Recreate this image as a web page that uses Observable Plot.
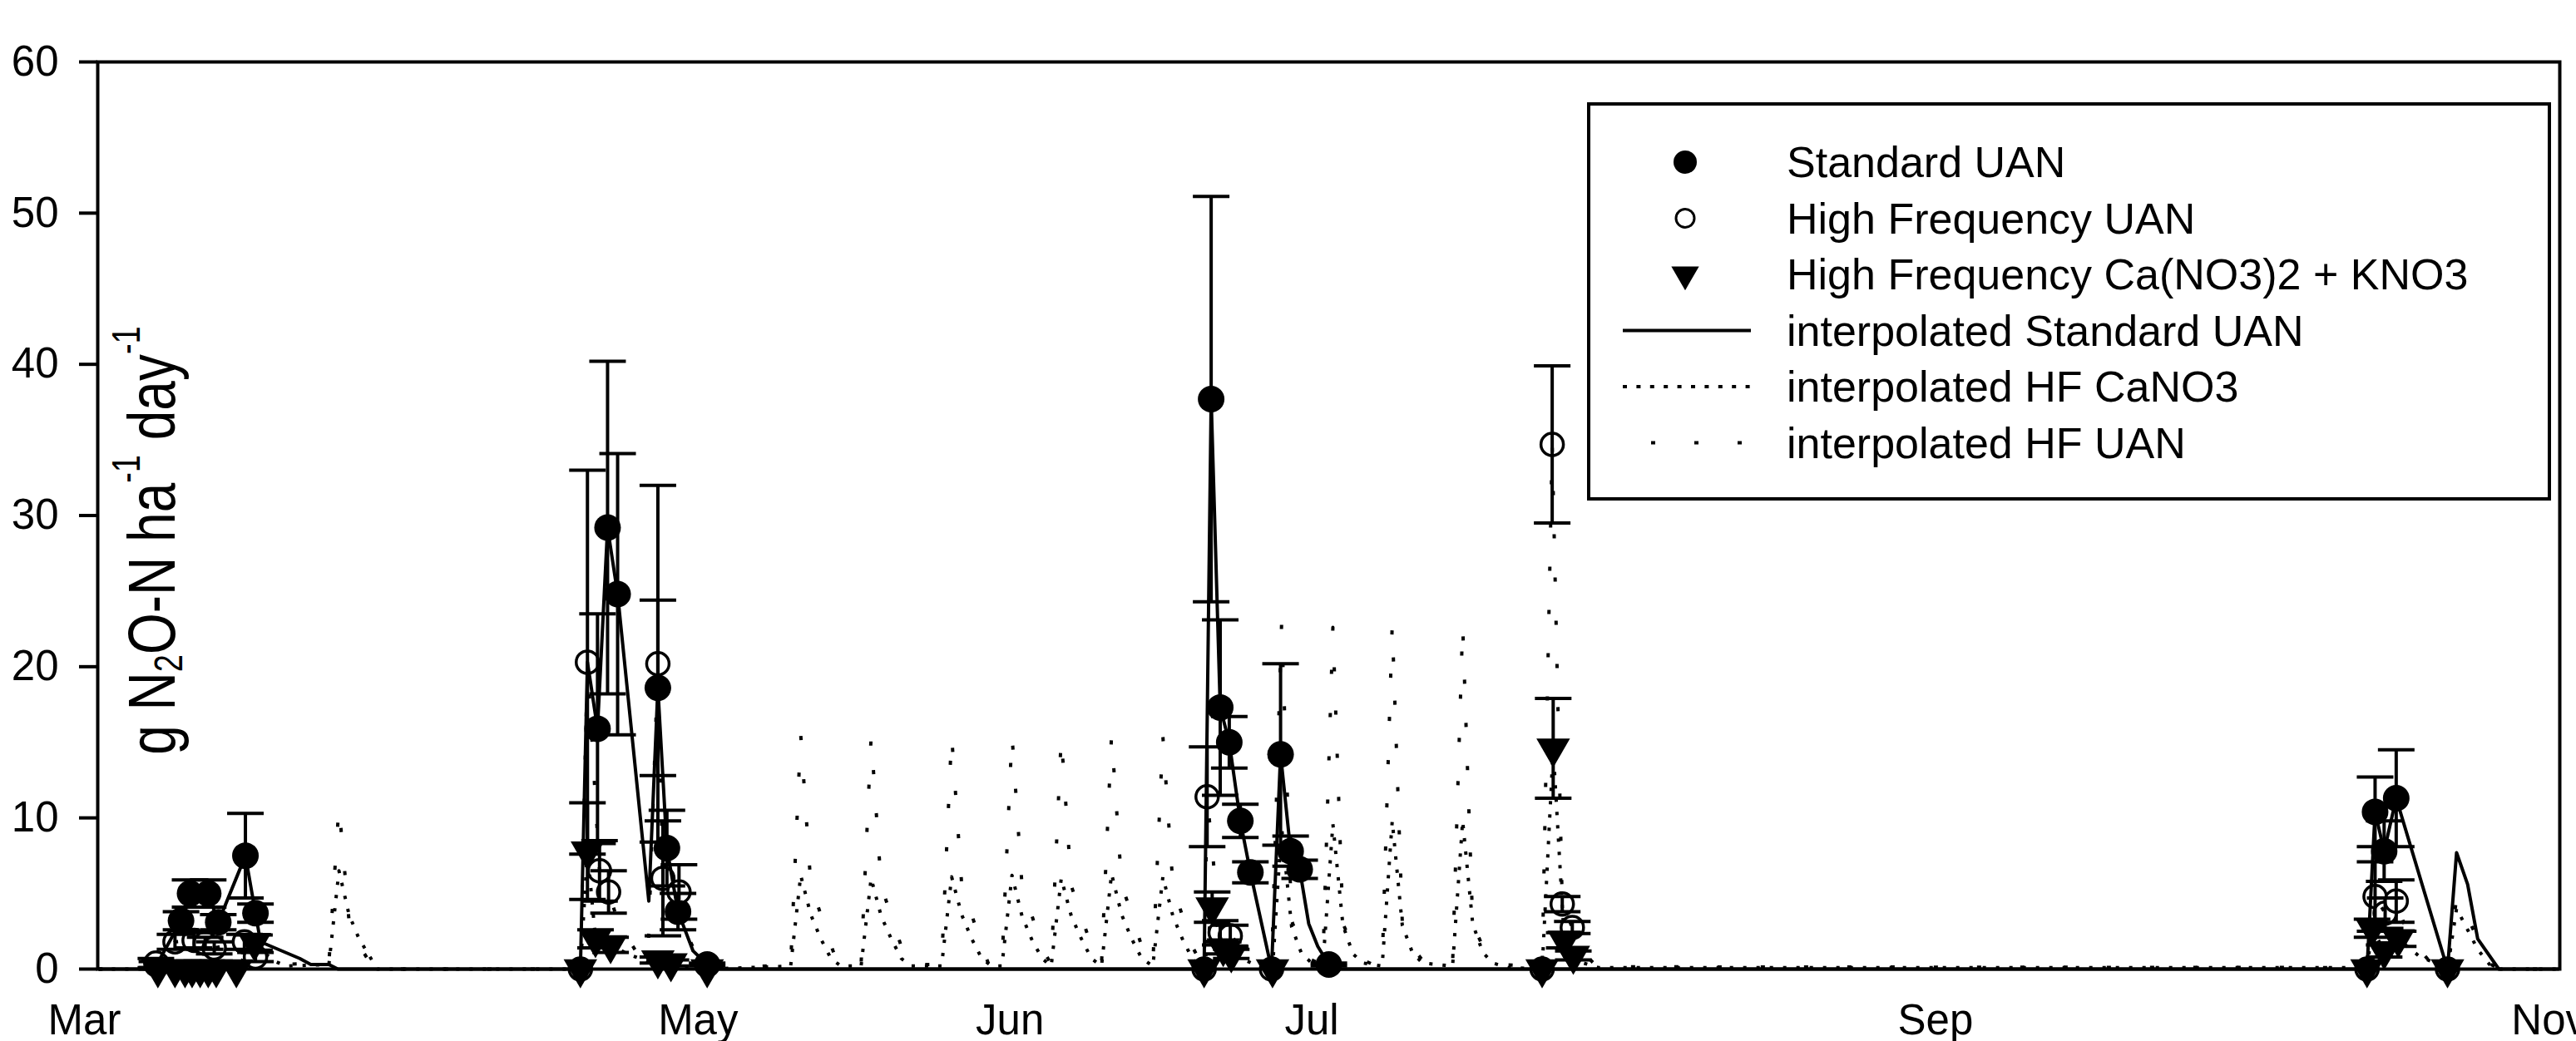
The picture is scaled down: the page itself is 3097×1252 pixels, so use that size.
<!DOCTYPE html>
<html>
<head>
<meta charset="utf-8">
<script src="https://cdn.jsdelivr.net/npm/d3@7"></script>
<script src="https://cdn.jsdelivr.net/npm/@observablehq/plot@0.6"></script>
<style>
  html, body { margin: 0; padding: 0; background: #ffffff; }
  #chart svg { display: block; }
</style>
</head>
<body>
<div id="chart"></div>
<script>
// x = days after 1 March, y = g N2O-N ha-1 day-1
const monthTicks  = [0, 61, 92, 122, 184, 245];
const monthLabels = ["Mar", "May", "Jun", "Jul", "Sep", "Nov"];
const yTicks = [0, 10, 20, 30, 40, 50, 60];

// measured points: [day, mean, error]
const standardUAN = [
  [7.2,0.3,0.2],[9.6,3.2,0.6],[10.5,5.0,0.9],[12.3,5.0,0.9],[13.3,3.1,0.5],[16.0,7.5,2.8],[17.0,3.7,0.6],
  [51.0,15.9,7.6],[52.0,29.2,11.0],[53.0,24.8,9.3],[57.0,18.6,5.8],[57.9,8.0,2.5],[59.0,3.8,1.2],[61.9,0.3,0.1],
  [112.0,37.7,13.4],[112.9,17.3,5.8],[113.8,15.0,1.7],[114.9,9.8,1.1],[115.9,6.4,0.7],
  [118.9,14.2,6.0],[119.9,7.8,1.0],[120.8,6.6,0.6],[123.7,0.3,0.1],
  [227.7,10.4,2.3],[228.6,7.8,2.0],[229.8,11.3,3.2]
];
const hfUAN = [
  [7.1,0.4,0.3],[9.0,1.8,0.5],[10.9,1.9,0.5],[12.0,1.7,0.4],[12.9,1.4,0.4],[15.9,1.8,0.5],[17.0,0.8,0.3],
  [49.3,0,0],[50.0,20.3,12.7],[51.2,6.5,2.0],[52.1,5.1,1.4],[57.0,20.2,11.8],[57.5,6.0,3.8],[59.1,5.1,1.8],
  [111.3,0,0],[111.6,11.4,3.3],[112.9,2.4,0.8],[113.9,2.2,0.7],[118.0,0,0],
  [144.9,0,0],[145.9,34.7,5.2],[146.9,4.3,0.5],[147.9,2.75,0.4],
  [226.9,0,0],[227.7,4.8,2.3],[228.7,3.7,1.0],[229.8,4.5,1.4],[234.9,0,0]
];
const hfCa = [
  [7.3,0,0],[9.0,0,0],[10.0,0,0],[10.7,0,0],[11.5,0,0],[12.3,0,0],[13.1,0,0],[15.1,0,0],[16.9,1.75,0.5],
  [49.3,0,0],[50.0,7.8,3.2],[50.8,2.0,0.6],[52.3,1.6,0.5],[57.0,0.6,0.2],[58.3,0.4,0.2],[61.9,0,0],
  [111.3,0,0],[112.1,4.1,1.0],[113.2,1.4,0.4],[114.0,1.0,0.3],[118.1,0,0],
  [144.9,0,0],[146.0,14.6,3.3],[147.1,1.9,0.5],[148.0,0.9,0.3],
  [226.9,0,0],[227.4,2.7,0.6],[228.6,1.2,0.4],[230.0,2.0,0.5],[234.9,0,0]
];

// interpolated daily series: [day, value]
const interpStandard = [
  [1.4,0],[6.2,0],[7.2,0.3],[9.6,3.2],[10.5,5.0],[12.3,5.0],[13.3,3.1],[16.0,7.5],[17.0,3.7],[17.5,1.8],
  [21.4,0.7],[22.5,0.3],[24.3,0.3],[25.2,0],
  [48.3,0],[49.3,0],[50.0,20.3],[51.0,15.9],[52.0,29.2],[53.0,24.8],[56.1,4.5],[57.0,18.6],[57.9,8.0],
  [59.0,3.8],[60.5,1.2],[61.9,0.3],[63.0,0],
  [110.3,0],[111.3,0],[112.0,37.7],[112.9,17.3],[113.8,15.0],[114.9,9.8],[115.9,6.4],[118.0,0],
  [118.9,14.2],[119.9,7.8],[120.8,6.6],[121.7,3.0],[122.6,1.5],[123.7,0.3],[124.7,0],
  [225.9,0],[226.9,0],[227.7,10.4],[228.6,7.8],[229.8,11.3],[234.9,0],[235.8,7.7],[236.9,5.6],
  [237.9,2.0],[240.0,0],[246.0,0]
];
const interpHFCa = [
  [1.4,0],[15.1,0],[16.9,1.75],[18.0,1.0],[19.0,0.5],[20.0,0.2],[24.3,0.3],[25.3,6.5],[26.3,3.6],
  [27.3,2.0],[28.3,0.9],[29.1,0],
  [49.3,0],[50.0,7.8],[50.8,2.0],[52.3,1.6],[54.0,1.0],[56.0,0.5],[57.0,0.6],[58.3,0.4],[59.5,0.2],[61.9,0],
  [70.2,0.2],[71.2,6.2],[72.2,3.6],[73.2,2.0],[74.2,0.7],[75.2,0.2],
  [77.2,0.2],[78.2,6.0],[79.2,3.5],[80.2,2.0],[81.2,0.7],[82.2,0.2],
  [85.2,0.2],[86.2,6.1],[87.2,3.6],[88.2,2.0],[89.2,0.7],[90.2,0.2],
  [91.2,0.2],[92.2,6.2],[93.2,3.5],[94.2,1.9],[95.2,0.7],[96.1,0.2],
  [97.1,6.0],[98.1,3.5],[99.1,2.0],[100.1,0.7],[101.1,0.2],
  [102.1,6.3],[103.1,3.6],[104.1,2.0],[105.1,0.7],[106.2,0.2],
  [107.2,6.1],[108.2,3.5],[109.2,1.9],[110.2,0.6],[111.3,0],
  [112.1,4.1],[113.2,1.4],[114.0,1.0],[115.0,0.7],[116.0,0.4],[118.1,0],
  [119.0,9.4],[120.0,2.8],[121.0,1.0],[122.0,0.4],[123.1,0.2],
  [124.1,9.6],[125.1,2.9],[126.1,1.0],[127.1,0.4],[129.0,0.2],
  [130.0,9.8],[131.0,2.9],[132.0,1.1],[133.0,0.4],[136.0,0.2],
  [137.0,9.8],[138.0,3.0],[139.0,1.1],[140.0,0.4],[141.5,0.1],
  [144.9,0],[146.0,14.6],[147.1,1.9],[148.0,0.9],[149.0,0.4],[150.5,0.1],[225.9,0.1],
  [226.9,0],[227.4,2.7],[228.6,1.2],[230.0,2.0],[232.0,0.9],[234.9,0],[235.8,4.0],[236.9,2.6],
  [237.9,1.3],[239.2,0.2],[240.0,0],[246.0,0]
];
const interpHFUAN = [
  [1.4,0],[6.1,0],[7.1,0.4],[9.0,1.8],[10.9,1.9],[12.0,1.7],[12.9,1.4],[15.9,1.8],[17.0,0.8],[19.0,0.3],
  [24.3,0.4],[25.3,10.8],[26.3,3.2],[27.3,1.6],[28.3,0.5],[29.3,0],
  [48.3,0],[49.3,0],[50.0,20.3],[51.2,6.5],[52.1,5.1],[53.1,3.0],[55.0,1.0],[56.0,0.6],[57.0,20.2],
  [57.5,6.0],[59.1,5.1],[60.1,2.0],[61.1,0.6],[62.1,0],
  [70.2,0.3],[71.2,15.5],[72.2,5.6],[73.2,3.6],[74.2,1.6],[74.9,0.3],
  [77.2,0.3],[78.2,15.4],[79.2,5.5],[80.2,3.5],[81.2,1.5],[81.9,0.3],
  [85.2,0.3],[86.2,15.5],[87.2,5.6],[88.2,3.6],[89.2,1.5],[89.9,0.3],
  [91.2,0.3],[92.2,15.5],[93.2,5.5],[94.2,3.5],[95.2,1.4],[96.1,0.3],
  [97.1,15.4],[98.1,5.5],[99.1,3.5],[100.1,1.5],[101.1,0.3],
  [102.1,15.5],[103.1,5.6],[104.1,3.6],[105.1,1.5],[106.2,0.3],
  [107.2,15.4],[108.2,5.5],[109.2,3.4],[110.2,1.4],[111.3,0],
  [111.6,11.4],[112.9,2.4],[113.9,2.2],[115.0,1.5],[116.0,0.9],[117.0,0.4],[118.0,0],
  [119.0,22.8],[120.0,3.2],[121.0,1.4],[122.0,0.6],[123.1,0.3],
  [124.1,22.6],[125.1,3.0],[126.1,1.5],[127.1,0.6],[128.1,0.3],[129.0,0.3],
  [130.0,22.8],[131.0,3.1],[132.0,1.4],[133.0,0.6],[134.0,0.3],[136.0,0.3],
  [137.0,22.8],[138.0,3.0],[139.0,1.5],[140.0,0.6],[141.0,0.3],[143.9,0.2],
  [144.9,0],[145.9,34.7],[146.9,4.3],[147.9,2.75],[149.0,1.1],[150.0,0.4],[151.0,0.15],[225.9,0.1],
  [226.9,0],[227.7,4.8],[228.7,3.7],[229.8,4.5],[231.0,2.2],[233.0,0.6],[234.9,0],[235.8,4.7],
  [236.9,3.4],[237.9,2.0],[239.0,0.4],[240.0,0],[246.0,0]
];

const legendLabels = [
  "Standard UAN",
  "High Frequency UAN",
  "High Frequency Ca(NO3)2 + KNO3",
  "interpolated Standard UAN",
  "interpolated HF CaNO3",
  "interpolated HF UAN"
];

// ---------- build ----------
const FONT = "'Liberation Sans', Arial, Helvetica, sans-serif";
const toObj = a => a.map(([d, v, e = 0]) => ({d, v, e}));
const S = toObj(standardUAN), U = toObj(hfUAN), C = toObj(hfCa);
const capSymbol = { draw(ctx) { ctx.moveTo(-22, 0); ctx.lineTo(22, 0); } };

const errorMarks = data => {
  const withErr = data.filter(p => p.e > 0);
  return [
    Plot.ruleX(withErr, {x: "d", y1: p => Math.max(0, p.v - p.e), y2: p => p.v + p.e, stroke: "black", strokeWidth: 4}),
    Plot.dot(withErr, {x: "d", y: p => p.v + p.e, symbol: capSymbol, r: 5, fill: "none", stroke: "black", strokeWidth: 4}),
    Plot.dot(withErr, {x: "d", y: p => Math.max(0, p.v - p.e), symbol: capSymbol, r: 5, fill: "none", stroke: "black", strokeWidth: 4})
  ];
};

const labelOf = new Map(monthTicks.map((t, i) => [t, monthLabels[i]]));

const chart = Plot.plot({
  width: 3097,
  height: 1252,
  marginLeft: 117,
  marginRight: 20,
  marginTop: 74,
  marginBottom: 87,
  style: {fontFamily: FONT, fontSize: "51px", background: "white", color: "black", overflow: "visible"},
  x: {domain: [1.32, 246.06]},
  y: {domain: [0, 60]},
  marks: [
    Plot.dot(S, {x: "d", y: "v", r: 16, fill: "black", stroke: "none"}),
    Plot.dot(U, {x: "d", y: "v", r: 13.5, fill: "white", stroke: "black", strokeWidth: 3.5}),
    Plot.dot(C, {x: "d", y: "v", symbol: "triangle", r: 15, rotate: 180, fill: "black", stroke: "none"}),
    ...errorMarks(S),
    ...errorMarks(U),
    ...errorMarks(C),
    Plot.line(toObj(interpStandard), {x: "d", y: "v", stroke: "black", strokeWidth: 4, strokeLinecap: "butt"}),
    Plot.line(toObj(interpHFCa), {x: "d", y: "v", stroke: "black", strokeWidth: 4, strokeDasharray: "4,12", strokeLinecap: "butt"}),
    Plot.line(toObj(interpHFUAN), {x: "d", y: "v", stroke: "black", strokeWidth: 4, strokeDasharray: "5,47", strokeLinecap: "butt"}),
    Plot.axisY({ticks: yTicks, tickSize: 22, tickPadding: 25, strokeWidth: 4, label: null}),
    Plot.axisX({ticks: monthTicks, tickFormat: d => labelOf.get(d), tickSize: 0, tickPadding: 42, label: null}),
    Plot.frame({stroke: "black", strokeWidth: 4})
  ]
});
document.getElementById("chart").appendChild(chart);

const svg = d3.select(chart);

// y-axis title (inside the frame, rotated)
const yt = svg.append("text")
  .attr("transform", "translate(210,650) rotate(-90) scale(1,1.26)")
  .attr("text-anchor", "middle")
  .attr("font-family", FONT)
  .attr("font-size", 64)
  .attr("fill", "black");
yt.append("tspan").text("g N");
yt.append("tspan").attr("font-size", 38).attr("dy", 7).text("2");
yt.append("tspan").attr("dy", -7).text("O-N ha");
yt.append("tspan").attr("font-size", 38).attr("dy", -33).text("-1");
yt.append("tspan").attr("dy", 33).text(" day");
yt.append("tspan").attr("font-size", 38).attr("dy", -33).text("-1");

// legend
const lg = svg.append("g").attr("font-family", FONT).attr("font-size", 52).attr("text-anchor", "start");
lg.append("rect").attr("x", 1910).attr("y", 125).attr("width", 1155).attr("height", 475)
  .attr("fill", "white").attr("stroke", "black").attr("stroke-width", 4);
const rowY = i => 195 + 67.5 * i;
const symX = 2026;
legendLabels.forEach((lab, i) => {
  const y = rowY(i);
  if (i === 0) lg.append("circle").attr("cx", symX).attr("cy", y).attr("r", 14).attr("fill", "black");
  if (i === 1) lg.append("circle").attr("cx", symX).attr("cy", y).attr("r", 11).attr("fill", "white").attr("stroke", "black").attr("stroke-width", 3);
  if (i === 2) lg.append("path").attr("d", d3.symbol(d3.symbolTriangle, 480)()).attr("transform", `translate(${symX},${y}) rotate(180)`).attr("fill", "black");
  if (i === 3) lg.append("line").attr("x1", 1951).attr("x2", 2105).attr("y1", y).attr("y2", y).attr("stroke", "black").attr("stroke-width", 4);
  if (i === 4) lg.append("line").attr("x1", 1951).attr("x2", 2105).attr("y1", y).attr("y2", y).attr("stroke", "black").attr("stroke-width", 4).attr("stroke-dasharray", "5,11.4");
  if (i === 5) lg.append("line").attr("x1", 1985).attr("x2", 2096).attr("y1", y).attr("y2", y).attr("stroke", "black").attr("stroke-width", 4).attr("stroke-dasharray", "5,47");
  lg.append("text").attr("x", 2148).attr("y", y).attr("dy", "0.35em").attr("text-anchor", "start").attr("fill", "black").text(lab);
});
</script>
</body>
</html>
